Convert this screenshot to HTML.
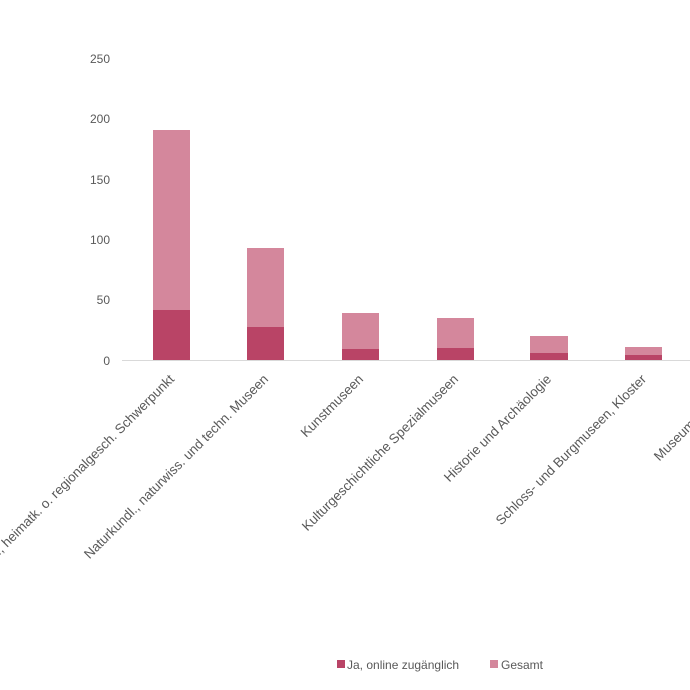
<!DOCTYPE html>
<html><head><meta charset="utf-8"><style>
html,body{margin:0;padding:0;background:#fff;width:690px;height:690px;overflow:hidden}
text{font-family:"Liberation Sans",sans-serif;fill:#595959}
</style></head><body>
<svg width="690" height="690" xmlns="http://www.w3.org/2000/svg">
<g font-size="12" text-anchor="end">
<text x="110" y="63">250</text>
<text x="110" y="123">200</text>
<text x="110" y="184">150</text>
<text x="110" y="244">100</text>
<text x="110" y="304">50</text>
<text x="110" y="365">0</text>
</g>
<g>
<rect x="153" y="130" width="37" height="230" fill="#d4879c"/>
<rect x="153" y="310" width="37" height="50" fill="#b94466"/>
<rect x="247" y="248" width="37" height="112" fill="#d4879c"/>
<rect x="247" y="327" width="37" height="33" fill="#b94466"/>
<rect x="342" y="313" width="37" height="47" fill="#d4879c"/>
<rect x="342" y="349" width="37" height="11" fill="#b94466"/>
<rect x="437" y="318" width="37" height="42" fill="#d4879c"/>
<rect x="437" y="348" width="37" height="12" fill="#b94466"/>
<rect x="530" y="336" width="38" height="24" fill="#d4879c"/>
<rect x="530" y="353" width="38" height="7" fill="#b94466"/>
<rect x="625" y="347" width="37" height="13" fill="#d4879c"/>
<rect x="625" y="355" width="37" height="5" fill="#b94466"/>
</g>
<line x1="122" y1="360.5" x2="690" y2="360.5" stroke="#d9d9d9" stroke-width="1"/>
<g font-size="13.4" text-anchor="end">
<text transform="translate(175,380) rotate(-45)">Museen mit volkskundl., heimatk. o. regionalgesch. Schwerpunkt</text>
<text transform="translate(269,380) rotate(-45)">Naturkundl., naturwiss. und techn. Museen</text>
<text transform="translate(364,380) rotate(-45)">Kunstmuseen</text>
<text transform="translate(459,380) rotate(-45)">Kulturgeschichtliche Spezialmuseen</text>
<text transform="translate(552,380) rotate(-45)">Historie und Archäologie</text>
<text transform="translate(647,380) rotate(-45)">Schloss- und Burgmuseen, Kloster</text>
<text transform="translate(741,380) rotate(-45)">Museumskomplexe</text>
</g>
<rect x="337" y="660" width="8" height="8" fill="#b94466"/>
<text x="347" y="669" font-size="12">Ja, online zugänglich</text>
<rect x="490" y="660" width="8" height="8" fill="#d4879c"/>
<text x="501" y="669" font-size="12">Gesamt</text>
</svg>
</body></html>
